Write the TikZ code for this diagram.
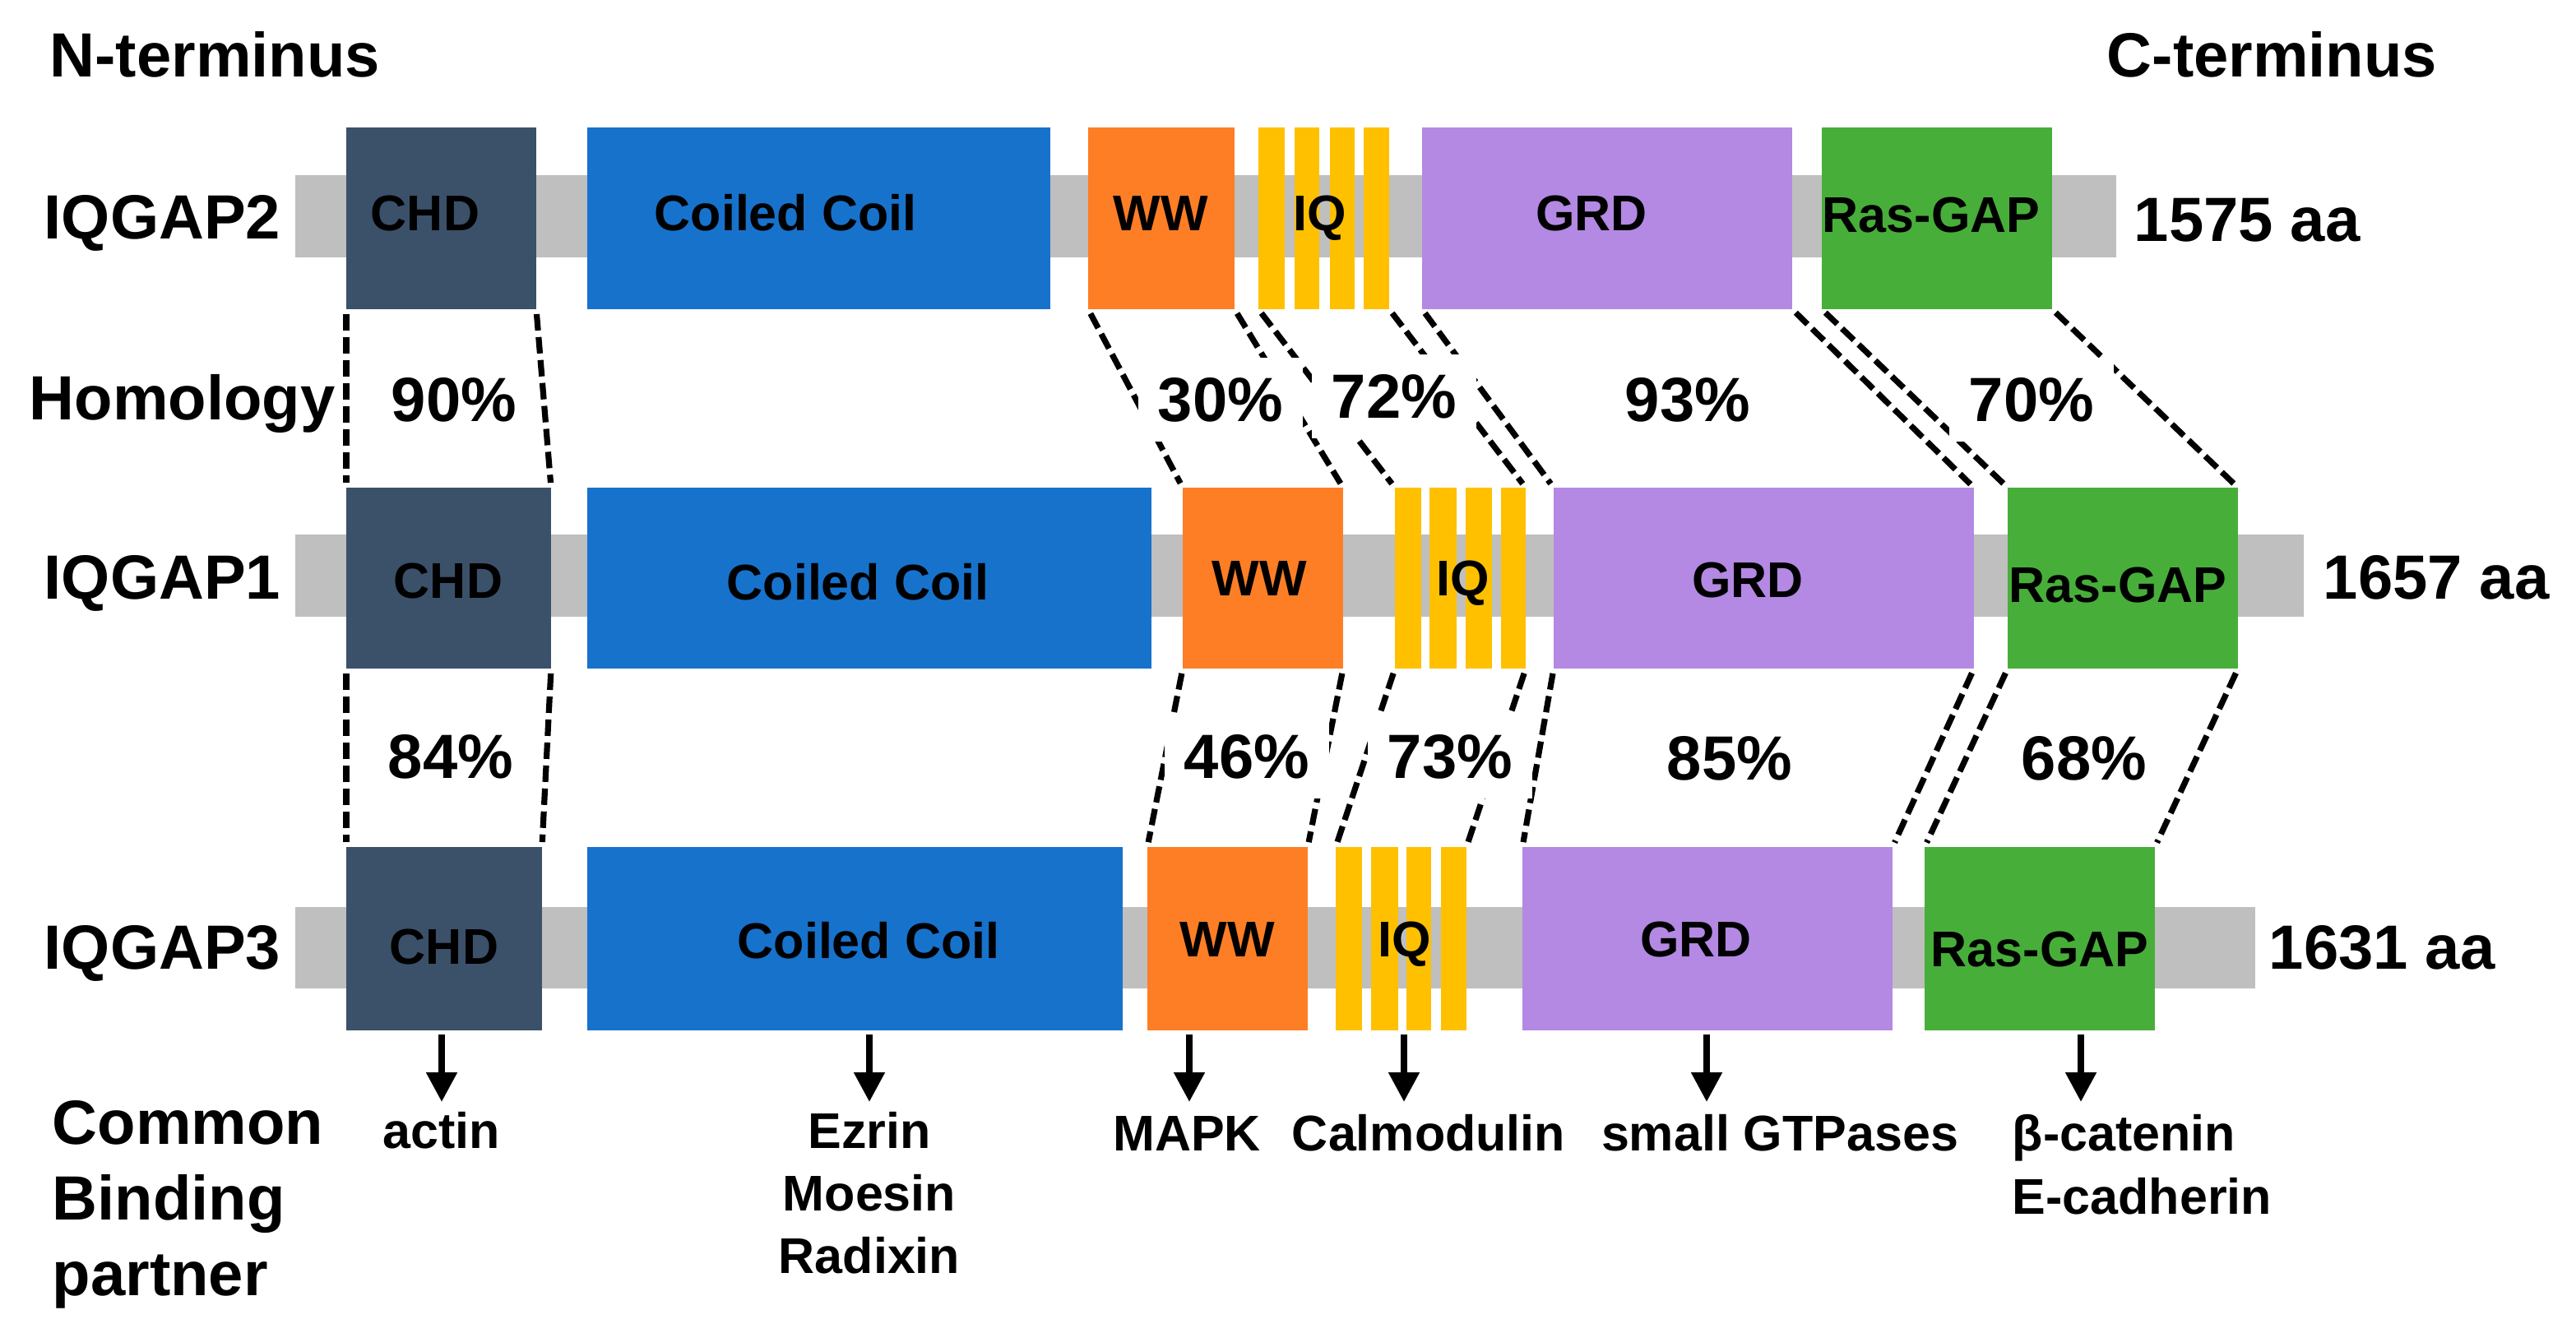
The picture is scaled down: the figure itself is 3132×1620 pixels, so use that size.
\documentclass[tikz,border=0pt]{standalone}
\usepackage{fontspec}
\setmainfont{Liberation Sans}
\usetikzlibrary{fit,arrows.meta}
\definecolor{chdc}{RGB}{59,80,105}
\definecolor{ccc}{RGB}{23,114,204}
\definecolor{wwc}{RGB}{254,126,38}
\definecolor{iqc}{RGB}{255,192,0}
\definecolor{grdc}{RGB}{179,137,227}
\definecolor{rasc}{RGB}{72,174,58}
\definecolor{barc}{RGB}{191,191,191}
\tikzset{
  dombox/.style={inner sep=0pt, outer sep=0pt, draw=none, rectangle},
  barbox/.style={dombox, fill=barc},
  big/.style={inner sep=0pt, font=\fontsize{19}{23}\selectfont\bfseries},
  domlbl/.style={inner sep=0pt, anchor=base, font=\fontsize{15.25}{18}\selectfont\bfseries},
  partner/.style={inner sep=0pt, anchor=base, font=\fontsize{15.25}{18}\selectfont\bfseries},
  pct/.style={big, anchor=base, fill=white, inner sep=6pt},
  dashln/.style={line width=1.8pt, dash pattern=on 5pt off 2pt, shorten <=1.5pt, shorten >=1.5pt},
  arr/.style={line width=2pt, -{Triangle[width=9pt,length=9pt]}, shorten <=1.25pt}
}
\begin{document}
\begin{tikzpicture}[x=0.25pt,y=-0.25pt]
\useasboundingbox (0,0) rectangle (3132,1620);

% ---------- backbone bars ----------
\node[barbox, fit={(359,213) (2573,313)}] (bar2) {};
\node[barbox, fit={(359,650) (2801,750)}] (bar1) {};
\node[barbox, fit={(359,1103) (2742,1202)}] (bar3) {};

% ---------- IQGAP2 domains ----------
\node[dombox, fill=chdc, fit={(421,155) (652,376)}] (chd2) {};
\node[dombox, fill=ccc, fit={(714,155) (1277,376)}] (cc2) {};
\node[dombox, fill=wwc, fit={(1323,155) (1501,376)}] (ww2) {};
\node[dombox, fill=iqc, fit={(1530,155) (1562,376)}] (iq2a) {};
\node[dombox, fill=iqc, fit={(1574,155) (1604,376)}] (iq2b) {};
\node[dombox, fill=iqc, fit={(1617,155) (1647,376)}] (iq2c) {};
\node[dombox, fill=iqc, fit={(1658,155) (1689,376)}] (iq2d) {};
\node[dombox, fill=grdc, fit={(1729,155) (2179,376)}] (grd2) {};
\node[dombox, fill=rasc, fit={(2215,155) (2495,376)}] (ras2) {};

% ---------- IQGAP1 domains ----------
\node[dombox, fill=chdc, fit={(421,593) (670,813)}] (chd1) {};
\node[dombox, fill=ccc, fit={(714,593) (1400,813)}] (cc1) {};
\node[dombox, fill=wwc, fit={(1438,593) (1633,813)}] (ww1) {};
\node[dombox, fill=iqc, fit={(1696,593) (1728,813)}] (iq1a) {};
\node[dombox, fill=iqc, fit={(1738,593) (1771,813)}] (iq1b) {};
\node[dombox, fill=iqc, fit={(1782,593) (1814,813)}] (iq1c) {};
\node[dombox, fill=iqc, fit={(1825,593) (1855,813)}] (iq1d) {};
\node[dombox, fill=grdc, fit={(1889,593) (2400,813)}] (grd1) {};
\node[dombox, fill=rasc, fit={(2441,593) (2721,813)}] (ras1) {};

% ---------- IQGAP3 domains ----------
\node[dombox, fill=chdc, fit={(421,1030) (659,1253)}] (chd3) {};
\node[dombox, fill=ccc, fit={(714,1030) (1365,1253)}] (cc3) {};
\node[dombox, fill=wwc, fit={(1395,1030) (1590,1253)}] (ww3) {};
\node[dombox, fill=iqc, fit={(1624,1030) (1656,1253)}] (iq3a) {};
\node[dombox, fill=iqc, fit={(1667,1030) (1700,1253)}] (iq3b) {};
\node[dombox, fill=iqc, fit={(1710,1030) (1740,1253)}] (iq3c) {};
\node[dombox, fill=iqc, fit={(1752,1030) (1783,1253)}] (iq3d) {};
\node[dombox, fill=grdc, fit={(1851,1030) (2301,1253)}] (grd3) {};
\node[dombox, fill=rasc, fit={(2340,1030) (2620,1253)}] (ras3) {};

% ---------- domain labels ----------
\node[domlbl] (l-chd2) at (517,280) {CHD};
\node[domlbl] (l-cc2) at (955,280) {Coiled Coil};
\node[domlbl] (l-ww2) at (1411,280) {WW};
\node[domlbl] (l-iq2) at (1605,280) {IQ};
\node[domlbl] (l-grd2) at (1935,280) {GRD};
\node[domlbl] (l-ras2) at (2348,282) {Ras-GAP};

\node[domlbl] (l-chd1) at (545,727) {CHD};
\node[domlbl] (l-cc1) at (1043,729) {Coiled Coil};
\node[domlbl] (l-ww1) at (1531,724) {WW};
\node[domlbl] (l-iq1) at (1779,724) {IQ};
\node[domlbl] (l-grd1) at (2125,726) {GRD};
\node[domlbl] (l-ras1) at (2575,732) {Ras-GAP};

\node[domlbl] (l-chd3) at (540,1172) {CHD};
\node[domlbl] (l-cc3) at (1056,1165) {Coiled Coil};
\node[domlbl] (l-ww3) at (1492,1163) {WW};
\node[domlbl] (l-iq3) at (1708,1163) {IQ};
\node[domlbl] (l-grd3) at (2062,1163) {GRD};
\node[domlbl] (l-ras3) at (2480,1175) {Ras-GAP};

% ---------- side labels ----------
\node[big, anchor=base west] (nterm) at (60,93) {N-terminus};
\node[big, anchor=base west] (cterm) at (2561,93) {C-terminus};
\node[big, anchor=base west] (name2) at (53,290) {IQGAP2};
\node[big, anchor=base west] (name1) at (53,728) {IQGAP1};
\node[big, anchor=base west] (name3) at (53,1178) {IQGAP3};
\node[big, anchor=base west] (len2) at (2594,293) {1575 aa};
\node[big, anchor=base west] (len1) at (2824,728) {1657 aa};
\node[big, anchor=base west] (len3) at (2758,1178) {1631 aa};
\node[big, anchor=base west] (homol) at (35,510) {Homology};
\node[big, anchor=base west] (common) at (63,1391) {Common};
\node[big, anchor=base west] (binding) at (63,1483) {Binding};
\node[big, anchor=base west] (partnerlbl) at (63,1575) {partner};

% ---------- homology connectors ----------
\foreach \d in {chd,ww,grd,ras}{
  \draw[dashln] (\d2.south west) -- (\d1.north west);
  \draw[dashln] (\d2.south east) -- (\d1.north east);
  \draw[dashln] (\d1.south west) -- (\d3.north west);
  \draw[dashln] (\d1.south east) -- (\d3.north east);
}
\draw[dashln] (iq2a.south west) -- (iq1a.north west);
\draw[dashln] (iq2d.south east) -- (iq1d.north east);
\draw[dashln] (iq1a.south west) -- (iq3a.north west);
\draw[dashln] (iq1d.south east) -- (iq3d.north east);

% ---------- percentages ----------
\node[pct] (p90) at (552,512) {90\%};
\node[pct] (p30) at (1484,512) {30\%};
\node[pct] (p72) at (1695,508) {72\%};
\node[pct] (p93) at (2052,512) {93\%};
\node[pct] (p70) at (2470,512) {70\%};
\node[pct] (p84) at (548,946) {84\%};
\node[pct] (p46) at (1516,946) {46\%};
\node[pct] (p73) at (1763,946) {73\%};
\node[pct] (p85) at (2103,948) {85\%};
\node[pct] (p68) at (2534,948) {68\%};

% ---------- binding partners ----------
\coordinate (tchd) at (537,1340);
\coordinate (tcc) at (1057,1340);
\coordinate (tww) at (1446,1340);
\coordinate (tiq) at (1707,1340);
\coordinate (tgrd) at (2075,1340);
\coordinate (tras) at (2530,1340);
\draw[arr] (tchd |- chd3.south) -- (tchd);
\draw[arr] (tcc |- cc3.south) -- (tcc);
\draw[arr] (tww |- ww3.south) -- (tww);
\draw[arr] (tiq |- iq3b.south) -- (tiq);
\draw[arr] (tgrd |- grd3.south) -- (tgrd);
\draw[arr] (tras |- ras3.south) -- (tras);

\node[partner] (actin) at (537,1396) {actin};
\node[partner] (ezrin) at (1057,1396) {Ezrin};
\node[partner] (moesin) at (1057,1472) {Moesin};
\node[partner] (radixin) at (1057,1548) {Radixin};
\node[partner] (mapk) at (1443,1399) {MAPK};
\node[partner] (calm) at (1737,1399) {Calmodulin};
\node[partner] (gtp) at (2164,1399) {small GTPases};
\node[partner, anchor=base west] (bcat) at (2446,1399) {β-catenin};
\node[partner, anchor=base west] (ecad) at (2446,1476) {E-cadherin};
\end{tikzpicture}
\end{document}
